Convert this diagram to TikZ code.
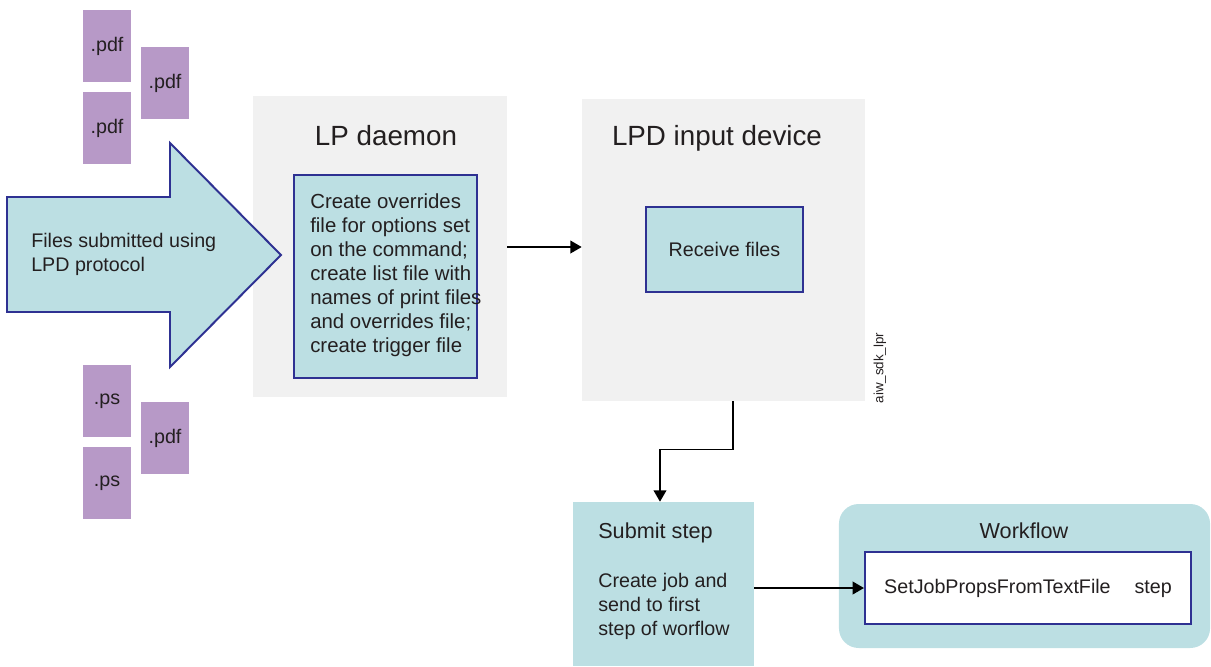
\documentclass[tikz,border=0pt]{standalone}
\usepackage{fontspec}
\setmainfont{Liberation Sans}
\usepackage{xcolor}
\usepackage{tikz}
\usetikzlibrary{arrows.meta}
\usetikzlibrary{shapes}

\definecolor{filepurple}{HTML}{B799C7}
\definecolor{lightteal}{HTML}{BCDFE3}
\definecolor{boxnavy}{HTML}{2E3192}
\definecolor{panelgrey}{HTML}{F1F1F1}
\definecolor{inktext}{HTML}{231F20}

\tikzset{
    filebox/.style = {fill = filepurple, minimum width = 34.1pt, minimum height = 51.2pt,
        inner sep = 0pt, text = inktext, font = \fontsize{14}{17}\selectfont},
    panel/.style = {fill = panelgrey, inner sep = 0pt},
    taskbox/.style = {draw = boxnavy, line width = 1.4pt, fill = lightteal, inner sep = 0pt},
    flow/.style = {-{Triangle[length = 8pt, width = 9pt]}, line width = 1.1pt, black},
    bodytext/.style = {font = \fontsize{14}{17.07}\selectfont, text = inktext, align = left, inner sep = 0pt},
    titletext/.style = {font = \fontsize{19.75}{24}\selectfont, text = inktext, inner sep = 0pt},
    steptitle/.style = {font = \fontsize{15.4}{18}\selectfont, text = inktext, inner sep = 0pt}
}

\begin{document}
\begin{tikzpicture}[x = 0.025cm, y = -0.025cm]
    \useasboundingbox (0, 0) rectangle (1211, 666);

    % files coming in
    \node[filebox] (pdfa) at (107, 46) {.pdf};
    \node[filebox] (pdfb) at (165, 83) {.pdf};
    \node[filebox] (pdfc) at (107, 128) {.pdf};
    \node[filebox] (psa) at (107, 401) {.ps};
    \node[filebox] (pdfd) at (165, 438) {.pdf};
    \node[filebox] (psb) at (107, 483) {.ps};

    % LP daemon
    \node[panel, minimum width = 180.7pt, minimum height = 214.1pt] (daemon) at (380, 246.5) {};
    \node[titletext, anchor = base] (daemontitle) at (386, 145) {LP daemon};
    \node[taskbox, minimum width = 130.2pt, minimum height = 144.4pt] (overrides) at (385.5, 276.5) {};
    \node[bodytext, font = \fontsize{14.5}{17.07}\selectfont, anchor = west] (overridestext) at (310, 275)
    {Create overrides\\file for options set\\on the command;\\create list file with\\names of print files\\and overrides file;\\create trigger file};

    % big arrow, over the daemon panel
    \draw[draw = boxnavy, line width = 1.4pt, fill = lightteal]
    (7, 197) -- (170, 197) -- (170, 143) -- (281, 255) -- (170, 367) -- (170, 312) -- (7, 312) -- cycle;
    \node[bodytext, anchor = west] (submitted) at (31, 254) {Files submitted using\\LPD protocol};

    % LPD input device
    \node[panel, minimum width = 201.3pt, minimum height = 214.8pt] (lpdin) at (723.5, 250) {};
    \node[titletext, anchor = base] (lpdintitle) at (717, 145) {LPD input device};
    \node[taskbox, bodytext, minimum width = 111.7pt, minimum height = 60.5pt] (receive) at (724.5, 249.5) {Receive files};
    \node[rotate = 90, font = \fontsize{9.5}{11}\selectfont, text = inktext, inner sep = 0pt] (figid) at (880, 368) {aiw\_sdk\_lpr};

    \coordinate (midrow) at (0, 247);
    \draw[flow] (daemon.east |- midrow) -- (lpdin.west |- midrow);

    % submit step
    \node[fill = lightteal, minimum width = 128.8pt, minimum height = 116.7pt, inner sep = 0pt] (submit) at (663.5, 584) {};
    \node[steptitle, anchor = base west] (submittitle) at (598, 538) {Submit step};
    \node[bodytext, anchor = west] (submittext) at (598, 606) {Create job and\\send to first\\step of worflow};

    \draw[flow] ([xshift = 6.8pt]lpdin.south) -- ++(0, 48) -| ([xshift = -2.5pt]submit.north);

    % workflow
    \node[fill = lightteal, rounded corners = 14pt, minimum width = 263.9pt, minimum height = 102.4pt, inner sep = 0pt] (workflow) at (1024.5, 576) {};
    \node[steptitle, anchor = base] (workflowtitle) at (1024, 538) {Workflow};
    \node[taskbox, bodytext, fill = white, minimum width = 231.9pt, minimum height = 51.2pt] (jobprops) at (1028, 588)
    {SetJobPropsFromTextFile\hspace{17pt}step};

    \draw[flow] (submit.east |- jobprops.west) -- (jobprops.west);
\end{tikzpicture}
\end{document}
